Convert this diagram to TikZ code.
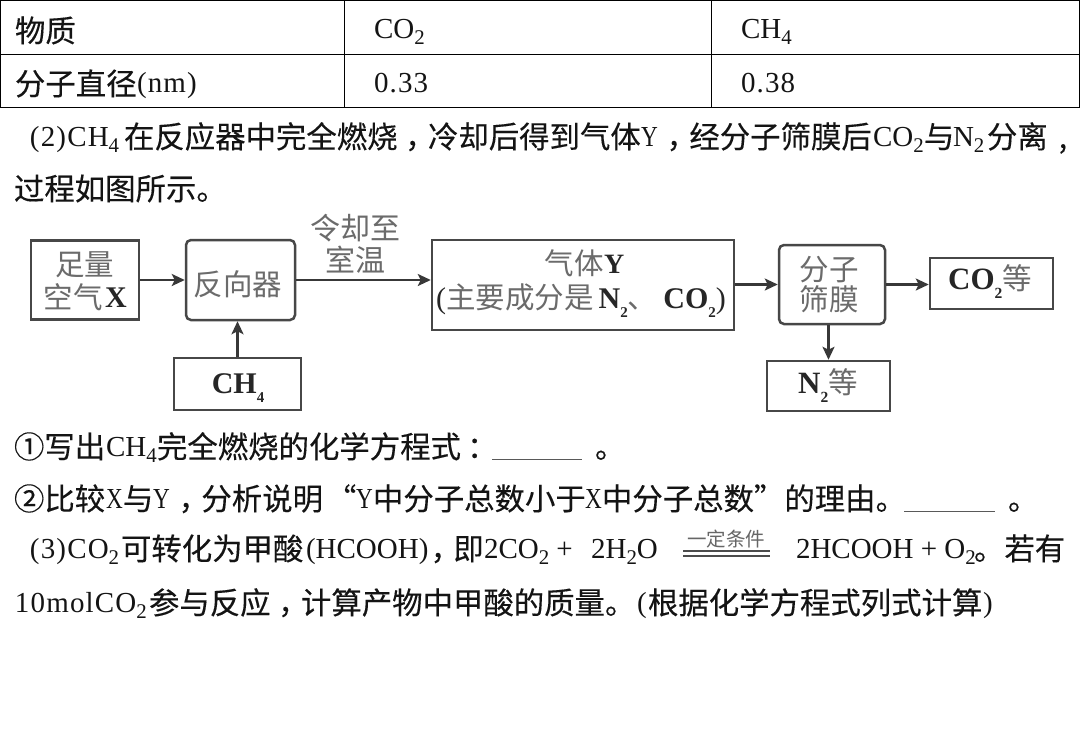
\documentclass[tikz,border=0pt]{standalone}
\usepackage{fontspec}
\setmainfont{Liberation Serif}
\newfontfamily\cjk{Noto Sans CJK SC}
\newfontfamily\cjkb[FakeBold=0.25]{Noto Sans CJK SC}
\usetikzlibrary{arrows.meta}
\newcommand{\sbs}[1]{\raisebox{-0.22em}{\scalebox{0.72}{#1}}}
\newcommand{\dsb}[1]{\raisebox{-0.3em}{\scalebox{0.5}{#1}}}
\newcommand{\cm}{\rlap{\hspace{.25em}，}\hspace{1em}}
\newcommand{\wide}{\addfontfeature{LetterSpace=4}}
\newcommand{\nrw}[1]{\scalebox{0.8}[1]{#1}}
\tikzset{
 tx/.style={anchor=base west,inner sep=0pt,outer sep=0pt,font=\fontsize{29}{32}\selectfont,text=black!92},
 cj/.style={tx,yshift=-2pt,font=\fontsize{30.4}{32}\cjkb},
 cell/.style={draw=black,line width=1pt},
 sq/.style={draw=black!72,line width=2.5pt,fill=white,inner sep=0pt},
 rd/.style={sq,rounded corners=5pt},
 lab/.style={inner sep=0pt,align=center,text=black!58,font=\fontsize{29.5}{32}\cjk},
 lat/.style={inner sep=0pt,text=black!85,font=\fontsize{30}{32}\selectfont\bfseries},
 conn/.style={draw=black!78,line width=2.4pt,-{Stealth[length=13pt,width=12pt,inset=3pt]}},
 blank/.style={draw=black!65,line width=1pt},
}
\begin{document}
\begin{tikzpicture}[x=1pt,y=-1pt]
\useasboundingbox (0,0) rectangle (1080,732);
\fill[white] (0,0) rectangle (1080,732);
% table
\draw[cell] (0.5,0.5) rectangle (1079,107);
\draw[cell] (0,54) -- (1079,54);
\draw[cell] (344.5,0) -- (344.5,107);
\draw[cell] (711.5,0) -- (711.5,107);
\node[cj] (t1) at (15,40) {物质};
\node[tx] (t2) at (374,38) {CO\sbs{2}};
\node[tx] (t3) at (741,38) {CH\sbs{4}};
\node[cj] (t4) at (15,93) {分子直径};
\node[tx] (t5) at (137,92) {\wide(nm)};
\node[tx] (t6) at (374,92) {\wide 0.33};
\node[tx] (t7) at (741,92) {\wide 0.38};
% line 3
\node[tx] (a1) at (30,146) {\wide(2)CH\sbs{4}};
\node[cj] (a2) at (124,146) {在反应器中完全燃烧\cm 冷却后得到气体};
\node[tx] (a3) at (641,146) {\nrw{Y}};
\node[cj] (a4) at (659,146) {\cm 经分子筛膜后};
\node[tx] (a5) at (873,146) {CO\sbs{2}};
\node[cj] (a6) at (924,146) {与};
\node[tx] (a7) at (953,146) {N\sbs{2}};
\node[cj] (a8) at (987,146) {分离\hspace{11pt},};
\node[cj] (a9) at (14,198) {过程如图所示。};
% diagram
\node[sq,minimum width=108pt,minimum height=79pt] (air) at (85,280) {};
\node[rd,minimum width=109pt,minimum height=80pt] (re) at (240.5,280) {};
\node[sq,minimum width=127pt,minimum height=52pt] (ch) at (237.5,384) {};
\node[sq,minimum width=302pt,minimum height=90pt] (gas) at (583,285) {};
\node[rd,minimum width=106pt,minimum height=79pt] (sv) at (832,284.5) {};
\node[sq,minimum width=123pt,minimum height=51pt] (co) at (991.5,283.5) {};
\node[sq,minimum width=123pt,minimum height=50pt] (nn) at (828.5,386) {};
\node[lab] (l1) at (85,265) {足量};
\node[lab] (l1b) at (73,297) {空气};
\node[lat] (l1c) at (116,298) {X};
\node[lab] (l2) at (238,284) {反向器};
\node[lab,font=\fontsize{30}{33}\cjk] (l3) at (355,244) {令却至\\[-1pt]室温};
\node[lat,anchor=base] (l4) at (238,393) {CH\dsb{4}};
\node[lab,anchor=east] (l5) at (604,263) {气体};
\node[lat,anchor=west,font=\fontsize{28}{30}\selectfont\bfseries] (l5b) at (604,264) {Y};
\node[inner sep=0pt,anchor=base west,text=black!85] (l6) at (436,308) {{\fontsize{30}{32}\selectfont(}{\color{black!58}\fontsize{29.5}{32}\cjk 主要成分是}\hspace{5pt}{\fontsize{30}{32}\selectfont\bfseries N\dsb{2}}{\color{black!58}\fontsize{29.5}{32}\cjk 、}\hspace{6pt}{\fontsize{30}{32}\selectfont\bfseries CO\dsb{2}}{\fontsize{30}{32}\selectfont)}};
\node[lab] (l7) at (829,285) {分子\\[-2pt]筛膜};
\node[anchor=base west,inner sep=0pt,text=black!85] (l8) at (948,289) {{\fontsize{31}{34}\selectfont\bfseries CO\dsb{2}}{\color{black!58}\fontsize{29.5}{32}\cjk 等}};
\node[anchor=base west,inner sep=0pt,text=black!85] (l9) at (798,393) {{\fontsize{31}{34}\selectfont\bfseries N\dsb{2}}{\color{black!58}\fontsize{29.5}{32}\cjk 等}};
\draw[conn] (air.east) -- (re.west);
\draw[conn] (re.east) -- (gas.west |- re.east);
\draw[conn] (ch.north) -- (ch.north |- re.south);
\draw[conn] (gas.east |- sv.east) -- (sv.west);
\draw[conn] (sv.east) -- (co.west |- sv.east);
\draw[conn] (sv.south -| nn.north) -- (nn.north);
% circled lines
\node[cj] (b1) at (14,456) {①写出};
\node[tx] (b2) at (106,456) {CH\sbs{4}};
\node[cj] (b3) at (157,456) {完全燃烧的化学方程式\rlap{\hspace{.2em}：}};
\coordinate (u1a) at (492,459); \coordinate (u1b) at (582,459);
\draw[blank] (u1a) -- (u1b);
\node[cj] (b4) at (595,456) {。};
\node[cj] (c1) at (14,508) {②比较};
\node[tx] (c2) at (106,508) {\nrw{X}};
\node[cj] (c3) at (123,508) {与};
\node[tx] (c4) at (153,508) {\nrw{Y}};
\node[cj] (c5) at (171,508) {\cm 分析说明};
\node[cj] (c6) at (326,508) {“};
\node[tx] (c7) at (356,508) {\nrw{Y}};
\node[cj] (c8) at (373,508) {中分子总数小于};
\node[tx] (c9) at (585,508) {\nrw{X}};
\node[cj] (c10) at (602,508) {中分子总数”的理由。};
\coordinate (u2a) at (904,511); \coordinate (u2b) at (995,511);
\draw[blank] (u2a) -- (u2b);
\node[cj] (c11) at (1008,508) {。};
% line (3)
\node[tx] (d1) at (30,558) {\wide(3)CO\sbs{2}};
\node[cj] (d2) at (121,558) {可转化为甲酸};
\node[tx] (d3) at (306,558) {(HCOOH)};
\node[cj] (d4) at (423,558) {\cm 即};
\node[tx] (d5) at (484,558) {2CO\sbs{2} + \hspace{11pt}2H\sbs{2}O};
\node[inner sep=0pt,text=black!60,font=\fontsize{19.5}{22}\cjk] (d6) at (726,539) {一定条件};
\coordinate (e1a) at (683,551); \coordinate (e1b) at (770,551);
\coordinate (e2a) at (683,556); \coordinate (e2b) at (770,556);
\draw[black!70,line width=1.3pt] (e1a) -- (e1b);
\draw[black!70,line width=1.3pt] (e2a) -- (e2b);
\node[tx] (d7) at (796,558) {2HCOOH + O\sbs{2}};
\node[cj] (d8) at (974,558) {。若有};
% last
\node[tx] (f1) at (15,612) {\wide 10molCO\sbs{2}};
\node[cj] (f2) at (149,612) {参与反应\cm 计算产物中甲酸的质量。};
\node[tx] (f3) at (637,612) {(};
\node[cj] (f4) at (648,612) {根据化学方程式列式计算};
\node[tx] (f5) at (983,612) {)};
\end{tikzpicture}
\end{document}
